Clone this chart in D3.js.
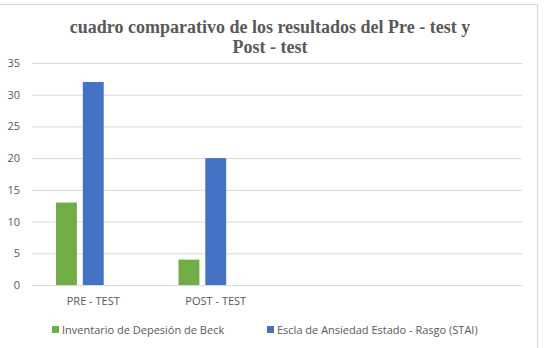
<!DOCTYPE html>
<html>
<head>
<meta charset="utf-8">
<script src="https://cdn.jsdelivr.net/npm/d3@7"></script>
<style>
  body { margin: 0; background: #fff; }
  svg { display: block; }
</style>
</head>
<body>
<div id="graf"></div>
<script>
// datos del gráfico
const categorias = ["PRE - TEST", "POST - TEST", "", ""];
const series = ["Inventario de Depesión de Beck", "Escla de Ansiedad Estado - Rasgo (STAI)"];
const valoresBeck = [13, 4, null, null];
const valoresStai = [32, 20, null, null];
const colores = ["#70AD47", "#4472C4"];
const ticksY = [0, 5, 10, 15, 20, 25, 30, 35];
const tituloLineas = ["cuadro comparativo de los resultados del Pre - test y", "Post - test"];

const ancho = 544, alto = 348;
const margins = { left: 32, top: 63, right: 22, bottom: 63 };
const anchografica = ancho - margins.left - margins.right;
const altografica = alto - margins.top - margins.bottom;

const svg = d3.select("#graf").append("svg")
  .attr("width", ancho)
  .attr("height", alto);

// marco del gráfico
svg.append("line").attr("x1", 0).attr("x2", 537.5).attr("y1", 4.5).attr("y2", 4.5)
  .attr("stroke", "#d9d9d9");
svg.append("line").attr("x1", 537.5).attr("x2", 537.5).attr("y1", 4.5).attr("y2", alto)
  .attr("stroke", "#d9d9d9");

// título
svg.append("text")
  .attr("x", 270).attr("y", 33)
  .attr("text-anchor", "middle")
  .attr("font-family", "Liberation Serif, serif")
  .attr("font-weight", "bold")
  .attr("font-size", 18)
  .attr("fill", "#595959")
  .selectAll("tspan").data(tituloLineas).enter().append("tspan")
  .attr("x", 270)
  .attr("dy", (d, i) => i === 0 ? 0 : 20)
  .text(d => d);

const g = svg.append("g").attr("transform", `translate(${margins.left}, ${margins.top})`);

// escalas
const x = d3.scaleBand().domain(d3.range(categorias.length)).range([0, anchografica]).paddingInner(0).paddingOuter(0);
// tres huecos por grupo (el tercero vacío, como en el original)
const xs = d3.scaleBand().domain([0, 1, 2]).range([24, x.bandwidth() - 24]).paddingInner(0.22);
const y = d3.scaleLinear().domain([0, 35]).range([altografica, 0]);

// rejilla y eje Y
const yAxis = d3.axisLeft(y).tickValues(ticksY).tickSize(-anchografica).tickPadding(10);
const ejeY = g.append("g").call(yAxis);
ejeY.select(".domain").remove();
ejeY.selectAll("line").attr("stroke", "#d9d9d9");
ejeY.selectAll("text").attr("fill", "#595959").attr("font-family", "Open Sans, sans-serif").attr("font-size", 11)
  .attr("x", -12);

// barras
const datosSeries = [valoresBeck, valoresStai];
datosSeries.forEach((vals, s) => {
  g.selectAll(".barra" + s)
    .data(vals.map((v, i) => ({ i, v })).filter(d => d.v != null))
    .enter().append("rect")
    .attr("x", d => x(d.i) + xs(s))
    .attr("y", d => y(d.v))
    .attr("width", xs.bandwidth())
    .attr("height", d => altografica - y(d.v))
    .attr("fill", colores[s]);
});

// eje X
const ejeX = g.append("g").attr("transform", `translate(0, ${altografica})`)
  .call(d3.axisBottom(x).tickFormat(i => categorias[i]).tickSize(0).tickPadding(12));
ejeX.select(".domain").attr("stroke", "#d9d9d9");
ejeX.selectAll("text").attr("fill", "#595959").attr("font-family", "Open Sans, sans-serif").attr("font-size", 11);

// leyenda
const leyendaX = [52, 267];
const leyenda = svg.append("g");
series.forEach((nombre, s) => {
  leyenda.append("rect").attr("x", leyendaX[s]).attr("y", 326).attr("width", 7).attr("height", 7).attr("fill", colores[s]);
  leyenda.append("text").attr("x", leyendaX[s] + 10).attr("y", 333.5)
    .attr("fill", "#595959").attr("font-family", "Open Sans, sans-serif").attr("font-size", 11)
    .text(nombre);
});
</script>
</body>
</html>
